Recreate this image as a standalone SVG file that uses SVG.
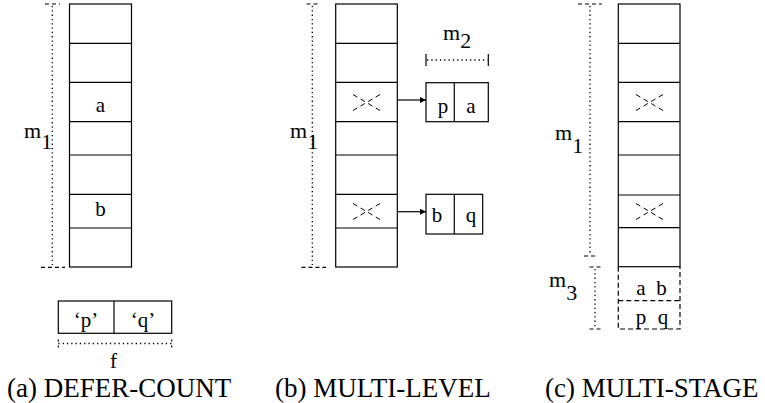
<svg xmlns="http://www.w3.org/2000/svg" width="765" height="403" viewBox="0 0 765 403">
<defs>
<marker id="ah" viewBox="0 0 10 10" refX="10" refY="5" markerWidth="8" markerHeight="6" markerUnits="userSpaceOnUse" orient="auto">
<path d="M0,0 L10,5 L0,10 z" fill="#000"/>
</marker>
</defs>
<style>
.c{fill:#fff;stroke:#000;stroke-width:1.2}
.l{stroke:#000;stroke-width:1.2;fill:none}
.dot{stroke:#000;stroke-width:1.3;stroke-dasharray:1.3,3;fill:none}
.tick{stroke:#000;stroke-width:1.2;stroke-dasharray:4,3;fill:none}
.dash{stroke:#000;stroke-width:1.2;stroke-dasharray:5,3;fill:none}
.x{stroke:#000;stroke-width:1;stroke-dasharray:5,3.8;fill:none}
.t{font-family:"Liberation Serif","Times New Roman",serif;font-size:21px;fill:#000;text-anchor:middle}
.m{font-family:"Liberation Serif","Times New Roman",serif;font-size:22px;fill:#000}
.cap{font-family:"Liberation Serif","Times New Roman",serif;font-size:27px;fill:#000}
</style>

<g id="colA">
<rect class="c" x="69.5" y="4" width="62" height="263"/>
<path class="l" d="M69.5,43.3H131.5M69.5,82.3H131.5M69.5,121.7H131.5M69.5,155H131.5M69.5,194.3H131.5M69.5,228H131.5"/>
<text class="t" x="100.5" y="111.5">a</text>
<text class="t" x="100.5" y="216">b</text>
</g>
<g id="bracketA">
<path class="dot" d="M52.3,6V265"/>
<path class="tick" d="M45,4H60"/>
<path class="tick" d="M41,267.3H65"/>
<text class="m" x="24" y="138">m<tspan dy="11">1</tspan></text>
</g>
<g id="boxF">
<rect class="c" x="58.3" y="301" width="113.4" height="32.3"/>
<path class="l" d="M114,301V333.3"/>
<text class="t" x="86" y="326.5">‘p’</text>
<text class="t" x="143" y="326.5">‘q’</text>
<path class="dot" d="M58.3,343.5H171.7"/>
<path class="l" d="M58.3,339.5V341.5M58.3,345.5V347.5M171.7,339.5V341.5M171.7,345.5V347.5"/>
<text class="t" x="113.5" y="368">f</text>
</g>

<g id="colB">
<rect class="c" x="335.7" y="4" width="61.6" height="263"/>
<path class="l" d="M335.7,43.3H397.3M335.7,82.3H397.3M335.7,121.7H397.3M335.7,155H397.3M335.7,194.3H397.3M335.7,228H397.3"/>
<path class="x" d="M353,94.5L380,110.5M380,94.5L353,110.5"/>
<path class="x" d="M353,203.5L380,219.5M380,203.5L353,219.5"/>
</g>
<g id="bracketB">
<path class="dot" d="M312.3,6V265"/>
<path class="tick" d="M306.5,4H320"/>
<path class="tick" d="M301.5,267.3H326"/>
<text class="m" x="290" y="138">m<tspan dy="11">1</tspan></text>
</g>
<g id="boxPA">
<rect class="c" x="426" y="82.7" width="62.3" height="39"/>
<path class="l" d="M454.3,82.7V121.7"/>
<text class="t" x="443" y="112.7">p</text>
<text class="t" x="471" y="112.7">a</text>
</g>
<g id="m2">
<path class="dot" d="M427,60H487.5"/>
<path class="l" d="M426,54V66M488.3,54V66"/>
<text class="m" x="443" y="40">m<tspan dy="8">2</tspan></text>
</g>
<g id="boxBQ">
<rect class="c" x="426" y="194.3" width="56.7" height="39.7"/>
<path class="l" d="M454.3,194.3V234"/>
<text class="t" x="437" y="221.7">b</text>
<text class="t" x="471" y="221.7">q</text>
</g>

<g id="colC">
<rect class="c" x="618.3" y="4" width="61.7" height="262.7"/>
<path class="l" d="M618.3,43.3H680M618.3,82.3H680M618.3,121.7H680M618.3,155H680M618.3,195H680M618.3,227.7H680"/>
<path class="x" d="M636,94.5L663,110.5M663,94.5L636,110.5"/>
<path class="x" d="M636,203.5L663,219.5M663,203.5L636,219.5"/>
</g>
<g id="stageC">
<path class="dash" d="M618.3,266.7V329H680V266.7M618.3,300.7H680"/>
<text class="t" x="641" y="295">a</text>
<text class="t" x="661.5" y="295">b</text>
<text class="t" x="641" y="323.5">p</text>
<text class="t" x="663" y="323.5">q</text>
</g>
<g id="bracketC">
<path class="dot" d="M590,6V254"/>
<path class="tick" d="M578,4H602"/>
<path class="tick" d="M584,256H598"/>
<text class="m" x="555" y="140">m<tspan dy="13">1</tspan></text>
<path class="dot" d="M595,269V327"/>
<path class="tick" d="M589.5,267H602"/>
<path class="tick" d="M589.5,329H602"/>
<text class="m" x="549" y="287">m<tspan dy="13">3</tspan></text>
</g>

<g id="connectors">
<path class="l" d="M397.3,100H426" marker-end="url(#ah)"/>
<path class="l" d="M397.3,211.7H426" marker-end="url(#ah)"/>
</g>

<g id="captions">
<text class="cap" x="7" y="397">(a) DEFER-COUNT</text>
<text class="cap" x="275" y="397">(b) MULTI-LEVEL</text>
<text class="cap" x="545" y="397">(c) MULTI-STAGE</text>
</g>
</svg>
